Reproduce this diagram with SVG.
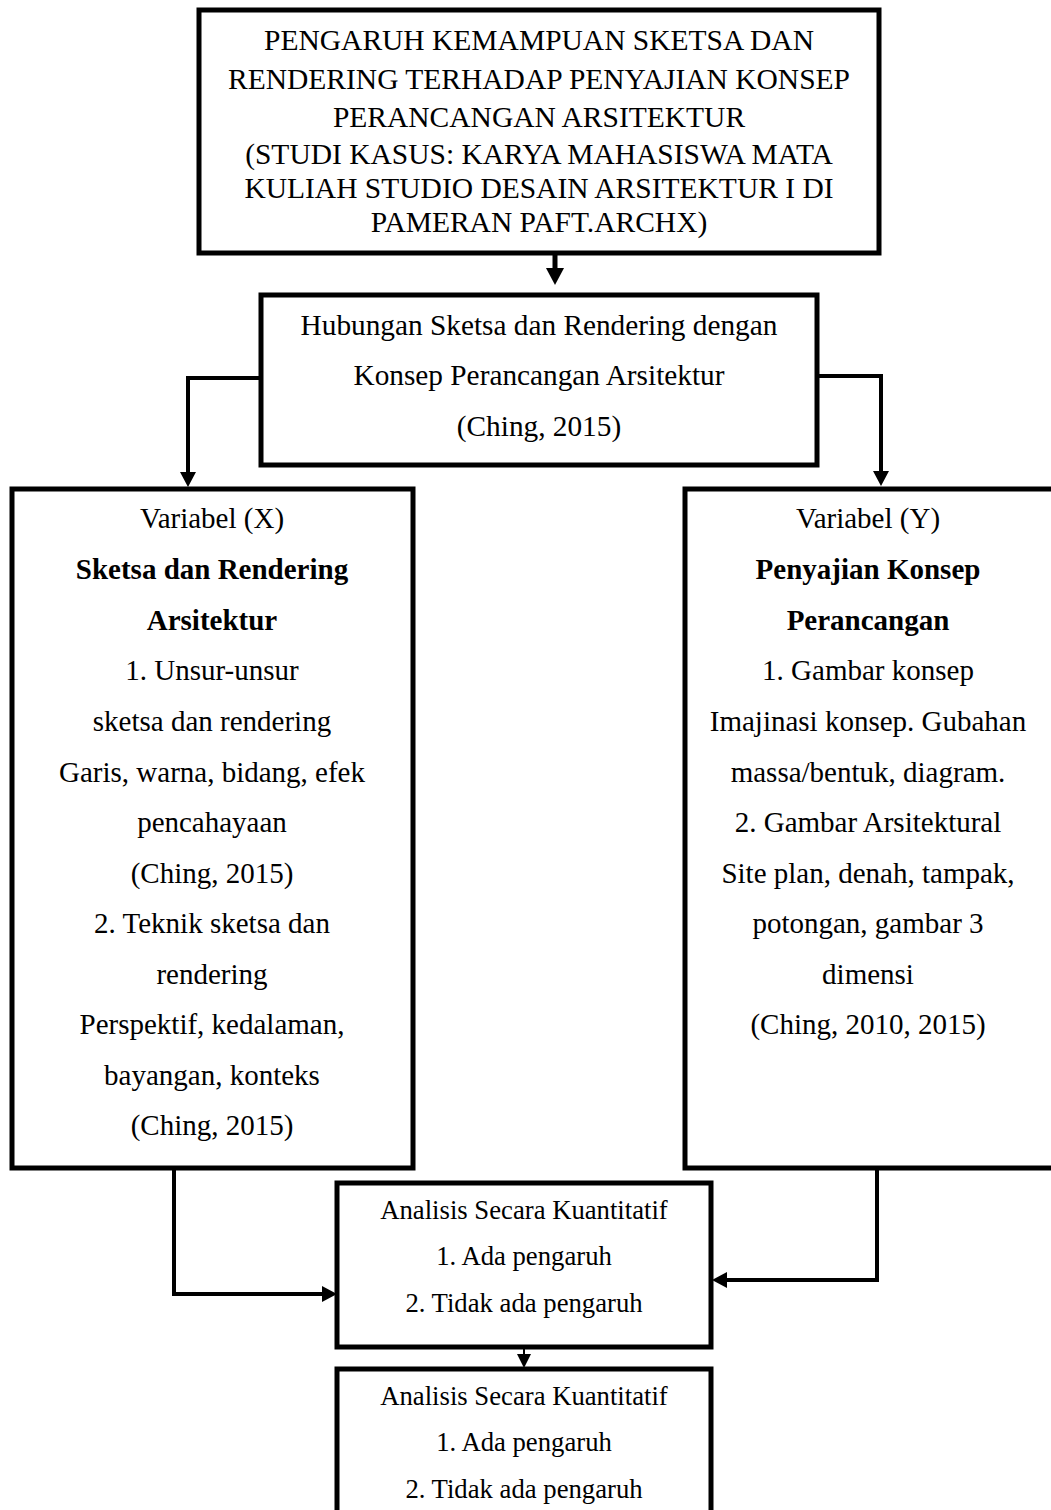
<svg xmlns="http://www.w3.org/2000/svg" width="1051" height="1510" viewBox="0 0 1051 1510">
<style>
.box{fill:#fff;stroke:#000;stroke-width:5}
.ln{fill:none;stroke:#000;stroke-width:4}
.hd{fill:#000;stroke:none}
text{font-family:"Liberation Serif","Times New Roman",serif;fill:#000;text-anchor:middle}
.t29{font-size:29.5px}
.t29h{font-size:29.3px}
.t28{font-size:29px}
.t26{font-size:26.7px}
.b{font-weight:bold}
</style>
<rect width="1051" height="1510" fill="#fff"/>
<g id="connectors">
<path class="ln" d="M555,253 V270" style="stroke-width:5"/>
<polygon class="hd" points="546,268 564,268 555,285"/>
<path class="ln" d="M261,378 H188 V473"/>
<polygon class="hd" points="180,472 196,472 188,487"/>
<path class="ln" d="M817,376 H881 V472"/>
<polygon class="hd" points="873,471 889,471 881,486"/>
<path class="ln" d="M174,1168 V1294 H323"/>
<polygon class="hd" points="322,1286 322,1302 337,1294"/>
<path class="ln" d="M877,1168 V1280 H726"/>
<polygon class="hd" points="727,1272 727,1288 712,1280"/>
<path class="ln" d="M524,1347 V1356" style="stroke-width:2"/>
<polygon class="hd" points="517,1354 531,1354 524,1368"/>
</g>
<g id="title">
<rect class="box" x="199" y="10" width="680" height="243"/>
<text class="t29" x="539" y="50">PENGARUH KEMAMPUAN SKETSA DAN</text>
<text class="t29" x="539" y="89">RENDERING TERHADAP PENYAJIAN KONSEP</text>
<text class="t29" x="539" y="127">PERANCANGAN ARSITEKTUR</text>
<text class="t29" x="539" y="164">(STUDI KASUS: KARYA MAHASISWA MATA</text>
<text class="t29" x="539" y="198">KULIAH STUDIO DESAIN ARSITEKTUR I DI</text>
<text class="t29" x="539" y="232">PAMERAN PAFT.ARCHX)</text>
</g>
<g id="hubungan">
<rect class="box" x="261" y="295" width="556" height="170"/>
<text class="t29h" x="539" y="335">Hubungan Sketsa dan Rendering dengan</text>
<text class="t29h" x="539" y="385">Konsep Perancangan Arsitektur</text>
<text class="t29h" x="539" y="436">(Ching, 2015)</text>
</g>
<g id="variabel-x">
<rect class="box" x="12" y="489" width="401" height="679"/>
<text class="t28" x="212" y="528">Variabel (X)</text>
<text class="t28 b" x="212" y="579">Sketsa dan Rendering</text>
<text class="t28 b" x="212" y="629.5">Arsitektur</text>
<text class="t28" x="212" y="680">1. Unsur-unsur</text>
<text class="t28" x="212" y="731">sketsa dan rendering</text>
<text class="t28" x="212" y="781.5">Garis, warna, bidang, efek</text>
<text class="t28" x="212" y="832">pencahayaan</text>
<text class="t28" x="212" y="882.5">(Ching, 2015)</text>
<text class="t28" x="212" y="933">2. Teknik sketsa dan</text>
<text class="t28" x="212" y="983.5">rendering</text>
<text class="t28" x="212" y="1034">Perspektif, kedalaman,</text>
<text class="t28" x="212" y="1084.5">bayangan, konteks</text>
<text class="t28" x="212" y="1135">(Ching, 2015)</text>
</g>
<g id="variabel-y">
<rect class="box" x="685" y="489" width="376" height="679"/>
<text class="t28" x="868" y="528">Variabel (Y)</text>
<text class="t28 b" x="868" y="579">Penyajian Konsep</text>
<text class="t28 b" x="868" y="629.5">Perancangan</text>
<text class="t28" x="868" y="680">1. Gambar konsep</text>
<text class="t28" x="868" y="731">Imajinasi konsep. Gubahan</text>
<text class="t28" x="868" y="781.5">massa/bentuk, diagram.</text>
<text class="t28" x="868" y="832">2. Gambar Arsitektural</text>
<text class="t28" x="868" y="882.5">Site plan, denah, tampak,</text>
<text class="t28" x="868" y="933">potongan, gambar 3</text>
<text class="t28" x="868" y="983.5">dimensi</text>
<text class="t28" x="868" y="1034">(Ching, 2010, 2015)</text>
</g>
<g id="analisis-1">
<rect class="box" x="337" y="1183" width="374" height="164"/>
<text class="t26" x="524" y="1219">Analisis Secara Kuantitatif</text>
<text class="t26" x="524" y="1265">1. Ada pengaruh</text>
<text class="t26" x="524" y="1312">2. Tidak ada pengaruh</text>
</g>
<g id="analisis-2">
<rect class="box" x="337" y="1369" width="374" height="200"/>
<text class="t26" x="524" y="1405">Analisis Secara Kuantitatif</text>
<text class="t26" x="524" y="1451">1. Ada pengaruh</text>
<text class="t26" x="524" y="1498">2. Tidak ada pengaruh</text>
</g>
</svg>
